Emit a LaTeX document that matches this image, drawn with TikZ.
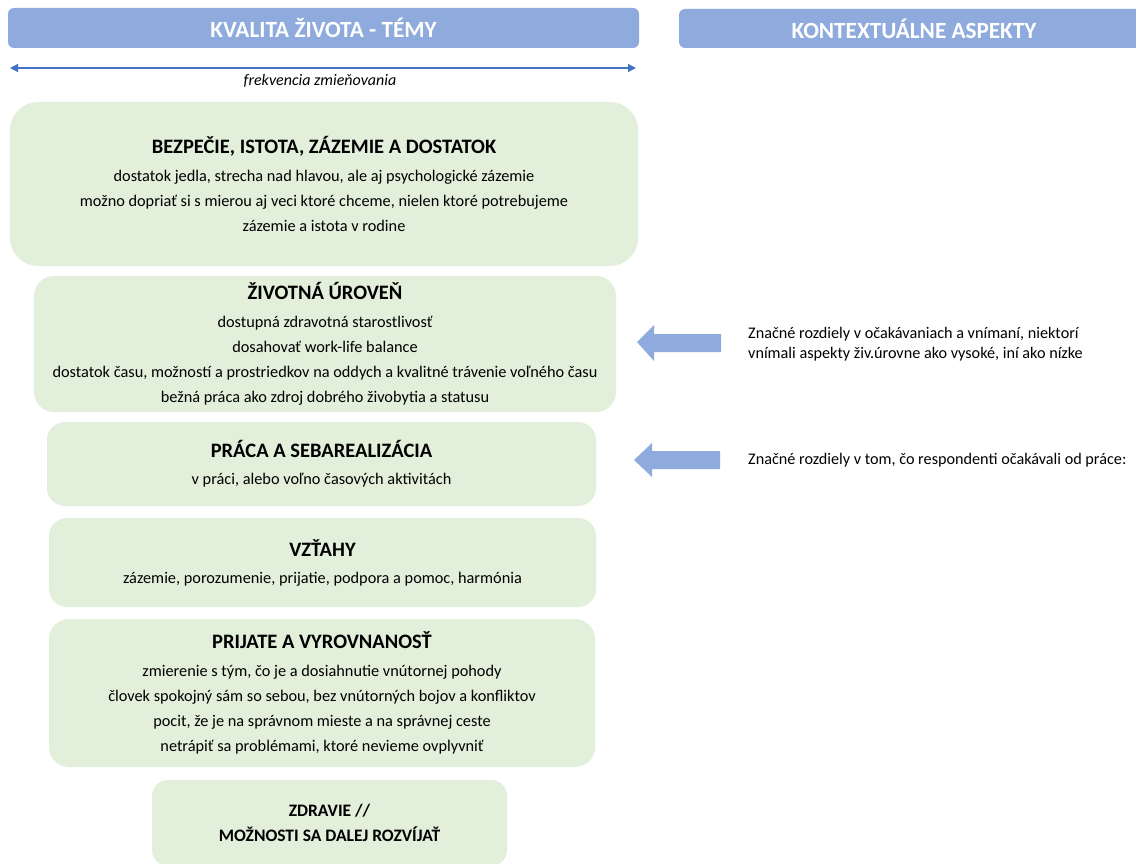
\documentclass[tikz,border=0pt]{standalone}
\usepackage{fontspec}
\setmainfont{Carlito}
\usetikzlibrary{arrows.meta}
\definecolor{hdrblue}{HTML}{8FAADC}
\definecolor{linkblue}{HTML}{4472C4}
\definecolor{themegreen}{HTML}{E2EFDA}
\newcommand{\themetitle}[1]{{\fontsize{20.5}{25}\selectfont\bfseries #1}}

\begin{document}
\begin{tikzpicture}[x=1pt,y=-1pt,
  header/.style={fill=hdrblue, rounded corners=6pt, text=white,
    font=\fontsize{23.2}{26}\selectfont\bfseries, inner sep=0pt},
  theme/.style={fill=themegreen, align=center, inner sep=0pt,
    font=\fontsize{16.3}{25}\selectfont},
  aspect/.style={anchor=west, align=left, inner sep=0pt,
    font=\fontsize{16.2}{20}\selectfont},
  blockarrow/.style={fill=hdrblue},
  freqline/.style={draw=linkblue, line width=1.3pt,
    {Triangle[length=8pt,width=8pt]}-{Triangle[length=8pt,width=8pt]}},
]
% page frame
\clip (0,0) rectangle (1136,864);
\fill[white] (0,0) rectangle (1136,864);

% column headers
\node[header, minimum width=631pt, minimum height=40pt] (h1) at (323.5,28)
  {KVALITA ŽIVOTA - TÉMY};
\node[header, minimum width=470pt, minimum height=39pt] (h2) at (914,28.5)
  {KONTEXTUÁLNE ASPEKTY};

% frequency axis
\coordinate (fl) at (10,68);
\coordinate (fr) at (636,68);
\draw[freqline] (fl) -- (fr);
\node[inner sep=0pt, font=\fontsize{16}{18}\selectfont\itshape] (freq) at (320,81)
  {frekvencia zmieňovania};

% themes, most frequent first
\node[theme, rounded corners=28pt, minimum width=628pt, minimum height=164pt] (t1) at (324,184)
  {\themetitle{BEZPEČIE, ISTOTA, ZÁZEMIE A DOSTATOK}\\[3pt]
   dostatok jedla, strecha nad hlavou, ale aj psychologické zázemie\\
   možno dopriať si s mierou aj veci ktoré chceme, nielen ktoré potrebujeme\\
   zázemie a istota v rodine};

\node[theme, rounded corners=20pt, minimum width=582pt, minimum height=136pt] (t2) at (325,344)
  {\themetitle{ŽIVOTNÁ ÚROVEŇ}\\[3pt]
   dostupná zdravotná starostlivosť\\
   dosahovať work-life balance\\
   dostatok času, možností a prostriedkov na oddych a kvalitné trávenie voľného času\\
   bežná práca ako zdroj dobrého živobytia a statusu};

\node[theme, rounded corners=18pt, minimum width=549pt, minimum height=84pt] (t3) at (321.5,464)
  {\themetitle{PRÁCA A SEBAREALIZÁCIA}\\[2pt]
   v práci, alebo voľno časových aktivitách};

\node[theme, rounded corners=18pt, minimum width=547pt, minimum height=89pt] (t4) at (322.5,562.5)
  {\themetitle{VZŤAHY}\\[2pt]
   zázemie, porozumenie, prijatie, podpora a pomoc, harmónia};

\node[theme, rounded corners=20pt, minimum width=546pt, minimum height=148pt] (t5) at (322,693)
  {\themetitle{PRIJATE A VYROVNANOSŤ}\\[3pt]
   zmierenie s tým, čo je a dosiahnutie vnútornej pohody\\
   človek spokojný sám so sebou, bez vnútorných bojov a konfliktov\\
   pocit, že je na správnom mieste a na správnej ceste\\
   netrápiť sa problémami, ktoré nevieme ovplyvniť};

\node[theme, rounded corners=16pt, minimum width=355pt, minimum height=86pt,
  font=\fontsize{17.5}{25}\selectfont\bfseries] (t6) at (329.5,823)
  {ZDRAVIE //\\MOŽNOSTI SA DALEJ ROZVÍJAŤ};

% contextual aspects
\node[aspect] (a1) at (748,344)
  {Značné rozdiely v očakávaniach a vnímaní, niektorí\\
   vnímali aspekty živ.úrovne ako vysoké, iní ako nízke};
\node[aspect] (a2) at (748,460)
  {Značné rozdiely v tom, čo respondenti očakávali od práce:};

% block arrows pointing back to the themes
\fill[blockarrow] (637,342) -- (654,325) -- (654,334) -- (721,334) -- (721,352)
  -- (654,352) -- (654,361) -- cycle;
\fill[blockarrow] (634,460) -- (652,443) -- (652,451) -- (720,451) -- (720,469)
  -- (652,469) -- (652,477) -- cycle;
\end{tikzpicture}
\end{document}
